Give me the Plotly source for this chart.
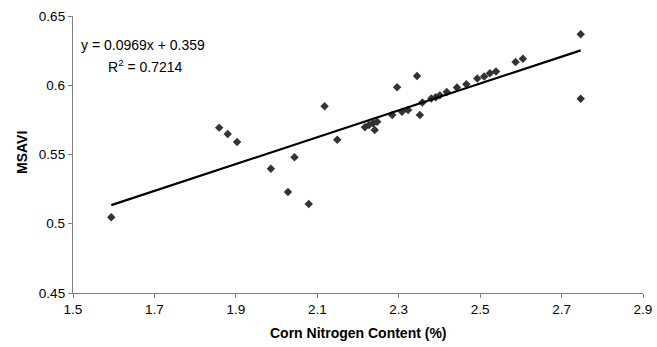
import plotly.graph_objects as go

# Data
nitrogen = [1.594, 1.859, 1.880, 1.903, 1.986, 2.028, 2.044, 2.079, 2.118, 2.149,
            2.217, 2.227, 2.237, 2.247, 2.241, 2.284, 2.296, 2.308, 2.323, 2.345,
            2.352, 2.358, 2.380, 2.391, 2.401, 2.418, 2.443, 2.466, 2.493, 2.510,
            2.524, 2.539, 2.587, 2.605, 2.747, 2.747]
msavi = [0.5047, 0.5694, 0.5648, 0.5590, 0.5397, 0.5229, 0.5480, 0.5143, 0.5848, 0.5607,
         0.5696, 0.5713, 0.5725, 0.5737, 0.5677, 0.5785, 0.5985, 0.5809, 0.5821, 0.6067,
         0.5785, 0.5875, 0.5904, 0.5913, 0.5927, 0.5951, 0.5984, 0.6008, 0.6048, 0.6063,
         0.6086, 0.6100, 0.6168, 0.6192, 0.6368, 0.5903]

slope = 0.0969
intercept = 0.359
r_squared = 0.7214

x_tick_vals = [1.5, 1.7, 1.9, 2.1, 2.3, 2.5, 2.7, 2.9]
x_tick_text = ["1.5", "1.7", "1.9", "2.1", "2.3", "2.5", "2.7", "2.9"]
y_tick_vals = [0.45, 0.5, 0.55, 0.6, 0.65]
y_tick_text = ["0.45", "0.5", "0.55", "0.6", "0.65"]

x_title = "Corn Nitrogen Content (%)"
y_title = "MSAVI"

# Trendline over data range
x_line = [min(nitrogen), max(nitrogen)]
y_line = [slope * v + intercept for v in x_line]

W, H = 657, 347
L, R, T, B = 73, 14, 16, 54
pw, ph = W - L - R, H - T - B

def px(xp):
    return (xp - L) / pw

def py(yp):
    return (H - B - yp) / ph

FONT = "Liberation Sans, Arial, sans-serif"

fig = go.Figure()
fig.add_trace(go.Scatter(
    x=nitrogen, y=msavi, mode="markers",
    marker=dict(symbol="diamond", size=6.5, color="#333333", line=dict(width=0)),
    showlegend=False, hoverinfo="x+y"))
fig.add_trace(go.Scatter(
    x=x_line, y=y_line, mode="lines",
    line=dict(color="#000000", width=2.2),
    showlegend=False, hoverinfo="skip"))

axis_common = dict(
    showgrid=False, zeroline=False, showline=True, linecolor="#808080", linewidth=1.3,
    ticks="outside", ticklen=4, tickcolor="#808080", tickwidth=1.3,
    tickfont=dict(family=FONT, size=13.5, color="#000000"),
    automargin=False,
)

fig.update_layout(
    width=W, height=H, autosize=False,
    margin=dict(l=L, r=R, t=T, b=B, pad=0, autoexpand=False),
    paper_bgcolor="white", plot_bgcolor="white",
    font=dict(family=FONT, color="#000000"),
    xaxis=dict(range=[1.5, 2.9], tickvals=x_tick_vals, ticktext=x_tick_text, **axis_common),
    yaxis=dict(range=[0.45, 0.65], tickvals=y_tick_vals, ticktext=y_tick_text, **axis_common),
    annotations=[
        dict(text="y = %.4fx + %.3f" % (slope, intercept), xref="paper", yref="paper",
             x=px(79), y=py(45), xanchor="left", yanchor="middle", showarrow=False,
             font=dict(family=FONT, size=14, color="#000000")),
        dict(text="R<sup>2</sup> = %.4f" % r_squared, xref="paper", yref="paper",
             x=px(105.5), y=py(66), xanchor="left", yanchor="middle", showarrow=False,
             font=dict(family=FONT, size=14, color="#000000")),
        dict(text="<b>%s</b>" % x_title, xref="paper", yref="paper",
             x=0.5, y=py(333), xanchor="center", yanchor="middle", showarrow=False,
             font=dict(family=FONT, size=14, color="#000000")),
        dict(text="<b>%s</b>" % y_title, xref="paper", yref="paper", textangle=-90,
             x=px(22), y=py(153), xanchor="center", yanchor="middle", showarrow=False,
             font=dict(family=FONT, size=14, color="#000000")),
    ],
)

fig.write_html("out.html")
